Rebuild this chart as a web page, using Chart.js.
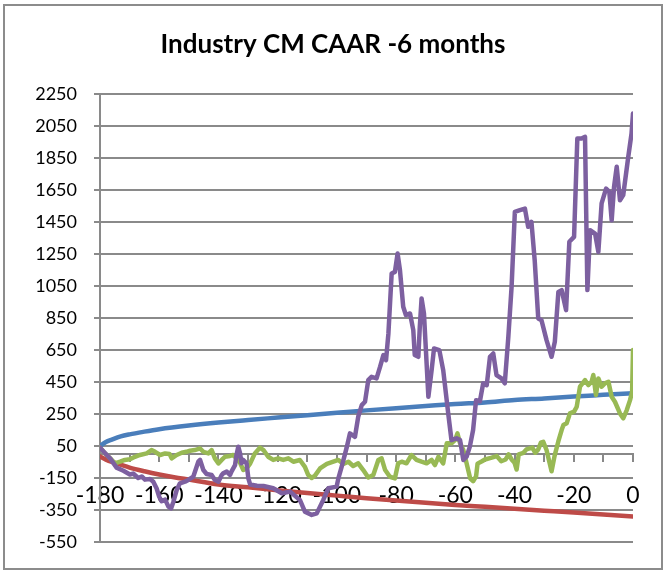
<!DOCTYPE html>
<html>
<head>
<meta charset="utf-8">
<script src="https://cdn.jsdelivr.net/npm/chart.js@4.4.1/dist/chart.umd.min.js"></script>
<style>
  html, body { margin: 0; padding: 0; background: #fff; }
  #wrap { position: relative; width: 666px; height: 571px; }
  #frame { position: absolute; left: 3px; top: 4px; width: 656px; height: 562px; border: 2px solid #8c8c8c; box-sizing: content-box; pointer-events: none; }
  canvas { position: absolute; left: 0; top: 0; }
</style>
</head>
<body>
<div id="wrap">
  <canvas id="c" width="666" height="571"></canvas>
  <div id="frame"></div>
</div>
<script>
// ---- data ----
const titleText = 'Industry CM CAAR -6 months';

const yTickValues = [-550, -350, -150, 50, 250, 450, 650, 850, 1050, 1250, 1450, 1650, 1850, 2050, 2250];
const xTickValues = [-180, -170, -160, -150, -140, -130, -120, -110, -100, -90, -80, -70, -60, -50, -40, -30, -20, -10, 0];

const blueX = [-180, -178, -176, -173, -170, -165, -160, -150, -140, -130, -120, -110, -100, -90, -80, -70, -60, -50, -40, -30, -20, -10, 0];
const blueY = [50, 75, 90, 110, 123, 140, 155, 178, 197, 213, 228, 243, 258, 273, 287, 300, 313, 323, 338, 348, 360, 370, 380];

const redX = [-180, -178, -175, -170, -165, -160, -155, -150, -140, -130, -120, -110, -100, -90, -80, -70, -60, -50, -40, -30, -20, -10, 0];
const redY = [-15, -35, -55, -85, -108, -128, -145, -160, -190, -208, -226, -244, -260, -276, -290, -305, -318, -330, -342, -354, -366, -378, -390];

const greenX = [-180, -178.3, -176, -174.9, -173.2, -171.6, -169.9, -168.2, -166.5, -164.2, -162.6, -161.4, -159.7, -158, -156.5, -155.8, -154.1, -152.4, -150.8, -149.6, -148, -146.2, -145.1, -143.4, -142.3, -141.2, -140, -138.9, -137.8, -136.1, -135, -133.9, -132.7, -131.6, -130.5, -129.3, -127.7, -126, -124.8, -123.2, -121.5, -119.8, -118.1, -116.4, -114.7, -112.5, -110.8, -109.7, -108.5, -107.4, -105.7, -103.4, -101.2, -99.5, -97.8, -96.1, -94.5, -92.8, -91.1, -89.4, -87.7, -86, -84.9, -83.7, -82.1, -80.4, -79.3, -78.1, -76.5, -74.8, -73.1, -71.4, -69.7, -68, -66.9, -65.7, -64.1, -62.9, -61.3, -60.1, -59.3, -58.4, -57.3, -56.2, -55, -54, -53, -52.5, -51, -50, -48, -46, -44.5, -43, -42, -41, -40, -39.3, -38.6, -37, -36, -34, -33, -32, -31.1, -30.3, -29.2, -27.5, -26.5, -25.2, -24.1, -23.5, -22.4, -21.3, -19.9, -19, -17.9, -16.2, -15.1, -14, -13.4, -12.5, -11.7, -10.6, -9.5, -8.3, -7.2, -6.1, -4.4, -3.3, -2.1, -1, -0.3, 0];
const greenY = [40, 4, -37, -58, -48, -37, -33, -17, -6, 4, 25, 14, -6, 4, 0, -27, -6, 8, 14, 21, 25, 35, 14, 4, 25, -27, -58, -37, -17, -12, -6, -27, -55, -100, -89, -60, 4, 40, 25, -17, -37, -27, -37, -27, -48, -37, -80, -130, -150, -135, -90, -62, -48, -37, -62, -48, -75, -58, -100, -147, -131, -37, -27, -100, -142, -152, -58, -48, -58, -6, -37, -48, -58, -37, -69, -17, -58, 67, 67, 87, 129, 67, 25, -58, -152, -170, -140, -60, -45, -34, -24, -13, -45, -34, -2, -34, -55, -97, -2, 8, 29, 40, 8, 29, 71, 77, 25, -108, -13, 80, 150, 181, 192, 254, 265, 296, 421, 462, 431, 452, 494, 369, 473, 421, 442, 452, 358, 327, 254, 223, 275, 337, 389, 650];

const purpleX = [-180, -178.5, -176.6, -174.4, -172.1, -169.9, -168.8, -167.1, -165.9, -164.8, -163.1, -162, -160.9, -160, -159.2, -158, -156.9, -156, -155.2, -154.1, -153, -151.3, -150.2, -148.5, -146.8, -146.2, -145.1, -144, -142.3, -141.2, -140, -138.9, -138.4, -137.2, -136.1, -135.6, -134.4, -133.9, -133.3, -132.7, -132.2, -131.6, -130.5, -129.9, -129.3, -127, -124.8, -121.5, -118.6, -115.8, -112.5, -110.8, -108.5, -106.8, -104.6, -102.9, -100.1, -99.5, -98.4, -96.7, -95.6, -93.9, -92.8, -91.6, -90.5, -89.4, -88.3, -86.6, -85.4, -84.3, -83.4, -82.6, -81.5, -80.4, -79.5, -78.7, -77.6, -76.7, -75.3, -74.2, -73.7, -72.5, -72, -71.4, -70.6, -69.1, -68, -67.2, -65.4, -64.1, -62.4, -61.3, -59.6, -58.4, -57.3, -56.2, -55.1, -54, -53, -51.7, -50.6, -49.4, -48.3, -47.2, -46.1, -44.4, -43.3, -42.1, -41, -39.9, -38.2, -36.5, -35.4, -34.3, -33.2, -32, -30.9, -29.2, -27.5, -26.4, -25.2, -24.1, -22.6, -21.5, -19.9, -18.8, -17.4, -16.2, -15.4, -14.5, -12.8, -11.7, -10.6, -9.1, -8, -7.2, -6.4, -5.5, -4.4, -3.3, -1.6, -0.5, 0];
const purpleY = [40, 10, -27, -85, -105, -128, -122, -150, -140, -160, -156, -173, -214, -267, -295, -285, -329, -340, -298, -225, -183, -173, -162, -142, -48, -37, -100, -125, -131, -162, -173, -131, -121, -110, -131, -110, -69, -6, 46, 4, -58, -37, -58, -152, -190, -198, -200, -214, -245, -235, -287, -360, -381, -371, -287, -214, -204, -152, -80, 40, 129, 108, 233, 306, 327, 462, 483, 473, 546, 619, 587, 754, 1129, 1139, 1254, 1150, 921, 869, 879, 775, 619, 608, 796, 973, 879, 358, 525, 660, 650, 525, 254, 87, 98, 87, -37, -17, 46, 150, 337, 330, 442, 430, 608, 629, 494, 473, 442, 733, 1046, 1514, 1525, 1535, 1421, 1452, 1212, 848, 837, 712, 608, 702, 1014, 1025, 900, 1327, 1358, 1973, 1973, 1983, 1025, 1400, 1379, 1264, 1567, 1660, 1639, 1462, 1671, 1796, 1587, 1619, 1858, 2004, 2130];

const seriesColors = { blue: '#4A7EBB', red: '#BE4B48', green: '#98B954', purple: '#7D60A0' };

function pts(xs, ys) { return xs.map((x, i) => ({ x: x, y: ys[i] })); }

const font = 'Lato, Carlito, Calibri, "Open Sans", sans-serif';

new Chart(document.getElementById('c'), {
  type: 'line',
  data: {
    datasets: [
      { label: 'Series1', data: pts(blueX, blueY), borderColor: seriesColors.blue, cubicInterpolationMode: 'monotone', order: 4 },
      { label: 'Series2', data: pts(redX, redY), borderColor: seriesColors.red, cubicInterpolationMode: 'monotone', order: 3 },
      { label: 'Series3', data: pts(greenX, greenY), borderColor: seriesColors.green, order: 2 },
      { label: 'Series4', data: pts(purpleX, purpleY), borderColor: seriesColors.purple, order: 1 }
    ]
  },
  options: {
    responsive: false,
    animation: false,
    devicePixelRatio: 1,
    layout: { padding: { left: 0, right: 0, top: 0, bottom: 29 } },
    elements: {
      point: { radius: 0, hoverRadius: 0 },
      line: { borderWidth: 4.5, borderCapStyle: 'round', borderJoinStyle: 'round', fill: false }
    },
    plugins: {
      legend: { display: false },
      tooltip: { enabled: false },
      title: {
        display: true,
        text: titleText,
        color: '#000',
        font: { family: font, size: 26, weight: 'bold' },
        padding: { top: 29, bottom: 34 }
      }
    },
    scales: {
      x: {
        type: 'linear',
        position: { y: 0 },
        min: -180,
        max: 0,
        afterBuildTicks: (s) => { s.ticks = xTickValues.map(v => ({ value: v })); },
        ticks: {
          autoSkip: false, maxRotation: 0, minRotation: 0,
          color: '#000',
          font: { family: font, size: 23 },
          padding: 21,
          callback: (v) => (v % 20 === 0 ? String(v) : '')
        },
        grid: { display: true, drawOnChartArea: false, drawTicks: true, tickLength: 7, color: '#888', lineWidth: 2 },
        border: { display: true, color: '#888', width: 2 }
      },
      y: {
        type: 'linear',
        position: 'left',
        min: -550,
        max: 2250,
        afterBuildTicks: (s) => { s.ticks = yTickValues.map(v => ({ value: v })); },
        afterFit: (s) => { s.width = 100; },
        ticks: { color: '#000', font: { family: font, size: 18 }, padding: 17, callback: (v) => String(v) },
        grid: { color: '#8a8a8a', lineWidth: 2, tickLength: 6, drawTicks: true },
        border: { display: true, color: '#8a8a8a', width: 2 }
      },
      yR: {
        type: 'linear',
        position: 'right',
        display: true,
        grid: { display: false },
        ticks: { display: false },
        border: { display: false },
        afterFit: (s) => { s.width = 33; }
      }
    }
  }
});
</script>
</body>
</html>
